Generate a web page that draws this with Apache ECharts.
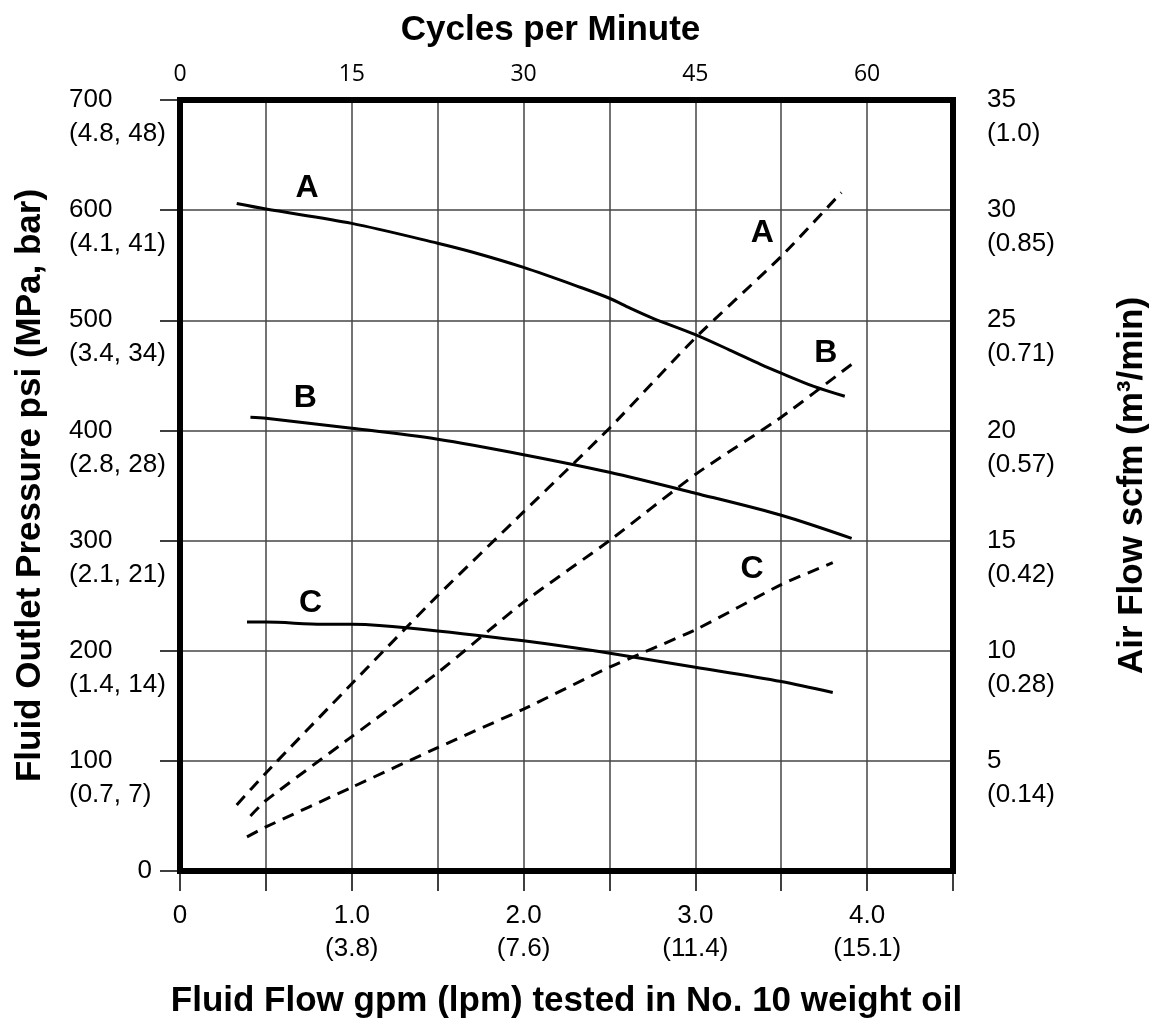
<!DOCTYPE html>
<html>
<head>
<meta charset="utf-8">
<script src="https://cdn.jsdelivr.net/npm/echarts@6/dist/echarts.min.js"></script>
<style>
html,body{margin:0;padding:0;background:#fff;}
#chart{width:1160px;height:1025px;}
</style>
</head>
<body>
<div id="chart"></div>
<script>
// ---- Data ----
// Fluid outlet pressure (psi) vs fluid flow (gpm), solid curves
const flowA = [0.33, 0.5, 1.0, 1.5, 1.7, 2.0, 2.33, 2.5, 2.62, 2.75, 3.0, 3.2, 3.38, 3.5, 3.69, 3.87];
const psiA  = [606, 601, 588, 570, 562, 548, 530, 520, 511, 502, 487, 473, 460, 452, 440, 431];
const flowB = [0.41, 0.5, 1.0, 1.5, 2.0, 2.5, 3.0, 3.5, 3.91];
const psiB  = [412, 411, 402, 392, 378, 362, 343, 323, 302];
const flowC = [0.39, 0.5, 0.83, 1.0, 1.16, 1.5, 2.0, 2.45, 3.0, 3.5, 3.8];
const psiC  = [226, 226, 224, 224, 223, 218, 209, 199, 185, 172, 162];
// Air flow (scfm) vs fluid flow (gpm), dashed curves
const airFlowA = [0.33, 0.5, 1.0, 1.5, 2.0, 2.5, 3.0, 3.5, 3.85];
const scfmA    = [3.0, 4.45, 8.5, 12.5, 16.3, 20.1, 24.2, 27.9, 30.8];
const airFlowB = [0.41, 0.5, 1.0, 1.5, 2.0, 2.5, 3.0, 3.5, 3.91];
const scfmB    = [2.5, 3.2, 6.1, 9.0, 12.2, 15.0, 18.0, 20.6, 23.0];
const airFlowC = [0.39, 0.5, 1.0, 1.5, 2.0, 2.5, 3.0, 3.5, 3.8];
const scfmC    = [1.55, 2.0, 3.8, 5.6, 7.35, 9.25, 10.95, 13.0, 14.0];
// Curve letters (position in gpm / psi)
const letterText = ['A', 'A', 'B', 'B', 'C', 'C'];
const letterFlow = [0.74, 3.39, 0.73, 3.76, 0.76, 3.33];
const letterPsi  = [620, 579, 429, 470, 243, 274];
// Tick labels
const psiMetric  = {100: '(0.7, 7)', 200: '(1.4, 14)', 300: '(2.1, 21)', 400: '(2.8, 28)', 500: '(3.4, 34)', 600: '(4.1, 41)', 700: '(4.8, 48)'};
const scfmMetric = {5: '(0.14)', 10: '(0.28)', 15: '(0.42)', 20: '(0.57)', 25: '(0.71)', 30: '(0.85)', 35: '(1.0)'};
const gpmLabels  = {0: '0', 1: '1.0\n(3.8)', 2: '2.0\n(7.6)', 3: '3.0\n(11.4)', 4: '4.0\n(15.1)'};
const cycleTicks = [0, 15, 30, 45, 60];

const zip = (xs, ys) => xs.map((x, i) => [x, ys[i]]);
const FONT = 'Liberation Sans, Arial, sans-serif';
const LABEL_SIZE = 26;
const GRID_LINE = {show: true, lineStyle: {color: '#444', width: 1.5}};

const solid = (name, xs, ys) => ({
  name, type: 'line', xAxisIndex: 0, yAxisIndex: 0, data: zip(xs, ys),
  showSymbol: false, smooth: 0.3, lineStyle: {color: '#000', width: 3}, z: 5
});
const dashed = (name, xs, ys) => ({
  name, type: 'line', xAxisIndex: 0, yAxisIndex: 3, data: zip(xs, ys),
  showSymbol: false, smooth: 0.2, lineStyle: {color: '#000', width: 3, type: [12, 8]}, z: 5
});

const chart = echarts.init(document.getElementById('chart'), null, {renderer: 'canvas'});
chart.setOption({
  animation: false,
  backgroundColor: '#fff',
  grid: {left: 180, right: 207, top: 100, bottom: 154, show: true, z: 10,
         borderWidth: 6, borderColor: '#000', backgroundColor: 'transparent'},
  xAxis: [
    {
      type: 'value', position: 'bottom', min: 0, max: 4.5, interval: 0.5,
      axisLine: {show: false},
      axisTick: {show: true, inside: false, length: 20, lineStyle: {color: '#000', width: 1.5}},
      axisLabel: {
        color: '#000', fontSize: LABEL_SIZE, fontFamily: FONT, lineHeight: 33, margin: 28,
        verticalAlign: 'top',
        formatter: v => (Math.abs(v - Math.round(v)) < 1e-6 && gpmLabels[Math.round(v)] !== undefined) ? gpmLabels[Math.round(v)] : ''
      },
      splitLine: GRID_LINE,
      name: 'Fluid Flow gpm (lpm) tested in No. 10 weight oil',
      nameLocation: 'middle', nameGap: 113,
      nameTextStyle: {color: '#000', fontSize: 35, fontWeight: 'bold', fontFamily: FONT}
    },
    {
      type: 'value', position: 'top', min: 0, max: 67.5, interval: 15,
      axisLine: {show: false}, axisTick: {show: false}, splitLine: {show: false},
      axisLabel: {
        color: '#000', fontSize: 23, fontFamily: 'Open Sans, sans-serif', margin: 14,
        formatter: v => cycleTicks.indexOf(v) >= 0 ? String(v) : ''
      },
      name: 'Cycles per Minute', nameLocation: 'middle', nameGap: 52,
      nameTextStyle: {color: '#000', fontSize: 35, fontWeight: 'bold', fontFamily: FONT, padding: [0, 32, 0, 0]}
    }
  ],
  yAxis: [
    {
      type: 'value', position: 'left', min: 0, max: 700, interval: 100,
      axisLine: {show: false},
      axisTick: {show: true, inside: false, length: 20, lineStyle: {color: '#000', width: 1.5}},
      axisLabel: {
        color: '#000', fontSize: LABEL_SIZE, fontFamily: FONT, align: 'left', margin: 111, lineHeight: 34,
        formatter: v => v === 0 ? '' : '\n' + v + '\n' + (psiMetric[v] || '')
      },
      splitLine: GRID_LINE,
      name: 'Fluid Outlet Pressure psi (MPa, bar)', nameLocation: 'middle', nameGap: 132, nameRotate: 90,
      nameTextStyle: {color: '#000', fontSize: 35, fontWeight: 'bold', fontFamily: FONT}
    },
    {
      type: 'value', position: 'left', min: 0, max: 700, interval: 100,
      axisLine: {show: false}, axisTick: {show: false}, splitLine: {show: false},
      axisLabel: {
        color: '#000', fontSize: LABEL_SIZE, fontFamily: FONT, align: 'right', margin: 28,
        formatter: v => v === 0 ? '0' : ''
      }
    },
    {
      type: 'value', position: 'right', min: 0, max: 35, interval: 5,
      axisLine: {show: false}, axisTick: {show: false}, splitLine: {show: false},
      axisLabel: {
        color: '#000', fontSize: LABEL_SIZE, fontFamily: FONT, align: 'left', margin: 34, lineHeight: 34,
        formatter: v => v === 0 ? '' : '\n' + v + '\n' + (scfmMetric[v] || '')
      },
      name: 'Air Flow scfm (m³/min)', nameLocation: 'middle', nameGap: 162, nameRotate: 90,
      nameTextStyle: {color: '#000', fontSize: 35, fontWeight: 'bold', fontFamily: FONT}
    },
    {
      type: 'value', position: 'right', min: 0, max: 35, interval: 5,
      axisLine: {show: false}, axisTick: {show: false}, splitLine: {show: false},
      axisLabel: {show: false}
    }
  ],
  series: [
    solid('Pressure A', flowA, psiA),
    solid('Pressure B', flowB, psiB),
    solid('Pressure C', flowC, psiC),
    dashed('Air A', airFlowA, scfmA),
    dashed('Air B', airFlowB, scfmB),
    dashed('Air C', airFlowC, scfmC),
    {
      name: 'Curve letters', type: 'scatter', xAxisIndex: 0, yAxisIndex: 0,
      symbolSize: 1, z: 6, itemStyle: {opacity: 0},
      data: letterText.map((t, i) => ({value: [letterFlow[i], letterPsi[i]], name: t})),
      label: {show: true, position: 'inside', formatter: p => p.name, opacity: 1,
              color: '#000', fontSize: 32, fontWeight: 'bold', fontFamily: FONT}
    }
  ]
});
</script>
</body>
</html>
